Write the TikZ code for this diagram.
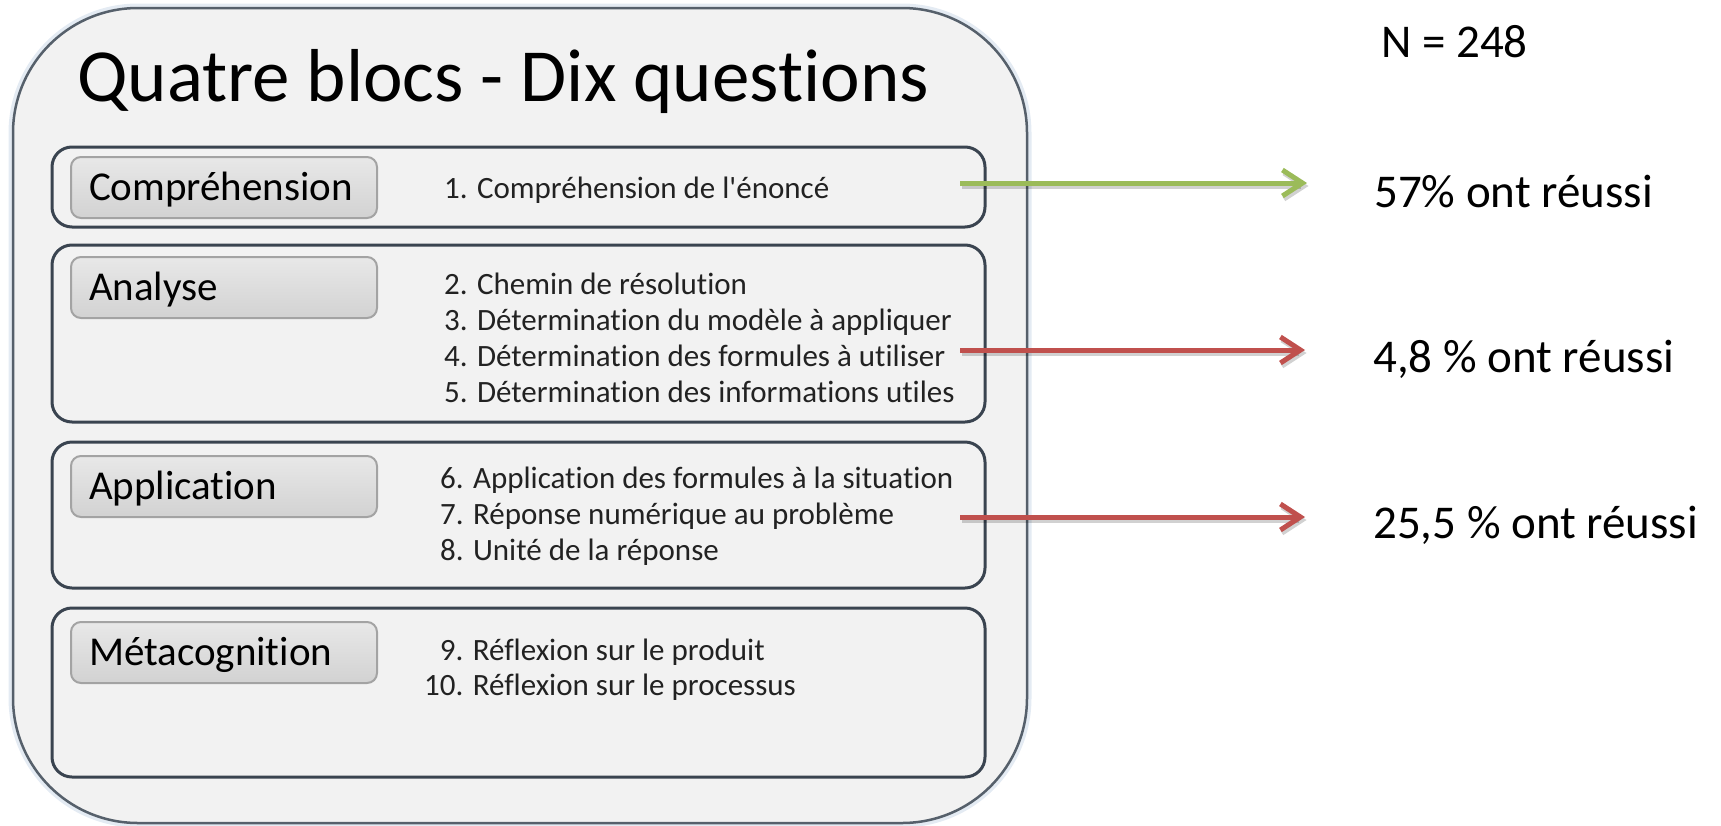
\documentclass[tikz,border=0pt]{standalone}
\usepackage{fontspec}
\setmainfont{Carlito}[Ligatures={TeX,NoCommon}]
\usetikzlibrary{arrows.meta}
\definecolor{outerfill}{HTML}{F2F2F2}
\definecolor{outerline}{HTML}{56606B}
\definecolor{glowblue}{HTML}{E4EBF3}
\definecolor{blockline}{HTML}{3A4450}
\definecolor{blockfill}{HTML}{F2F2F2}
\definecolor{labeltop}{HTML}{E8E8E8}
\definecolor{labelbot}{HTML}{D2D2D2}
\definecolor{labelborder}{HTML}{A3A3A3}
\definecolor{arrowgreen}{HTML}{9BBB59}
\definecolor{arrowred}{HTML}{C0504D}
\definecolor{itemtext}{HTML}{222222}
\begin{document}
\begin{tikzpicture}[x=1pt,y=-1pt,
  outerbox/.style={draw=outerline, line width=2.5pt, fill=outerfill, rounded corners=125pt,
    preaction={draw=glowblue, line width=9pt}, inner sep=0pt},
  blockbox/.style={draw=blockline, line width=3pt, fill=blockfill, rounded corners=20pt, minimum width=933pt, inner sep=0pt},
  labelbox/.style={draw=labelborder, line width=2pt, rounded corners=10pt, top color=labeltop, bottom color=labelbot,
    minimum width=306pt, minimum height=61pt, text width=270pt, inner xsep=18pt, inner ysep=0pt, align=left,
    text height=26pt, text depth=0pt, font=\fontsize{41}{49}\selectfont},
  itemtxt/.style={anchor=base west, inner sep=0pt, text=itemtext, font=\fontsize{31}{37}\selectfont},
  resulttxt/.style={anchor=base west, inner sep=0pt, font=\fontsize{47}{56}\selectfont},
  arrowshadow/.style={draw=black, opacity=0.18, line width=5pt, -{Straight Barb[length=20pt,width=26pt]}},
  greenarrow/.style={draw=arrowgreen, line width=5pt, -{Straight Barb[length=20pt,width=26pt]}},
  redarrow/.style={draw=arrowred, line width=5pt, -{Straight Barb[length=20pt,width=26pt]}}
]
\useasboundingbox (0,0) rectangle (1721,825);

% outer frame
\node[outerbox, minimum width=1014pt, minimum height=815pt] (outer) at (520,415.5) {};

% title
\node[anchor=base west, inner sep=0pt, font=\fontsize{75}{90}\selectfont] (title) at (77,101) {Quatre blocs - Dix questions};

% blocks
\node[blockbox, minimum height=80pt]  (b1) at (518.5,187) {};
\node[blockbox, minimum height=177pt] (b2) at (518.5,333.5) {};
\node[blockbox, minimum height=146pt] (b3) at (518.5,515) {};
\node[blockbox, minimum height=169pt] (b4) at (518.5,692.5) {};

% labels
\node[labelbox] (l1) at (224,187.5) {Compréhension};
\node[labelbox] (l2) at (224,287.5) {Analyse};
\node[labelbox] (l3) at (224,486.5) {Application};
\node[labelbox] (l4) at (224,652.5) {Métacognition};

% items
\node[itemtxt] (q1) at (444,198) {1. Compréhension de l\textquotesingle énoncé};
\node[itemtxt] (q2) at (444,294) {2. Chemin de résolution};
\node[itemtxt] (q3) at (444,330) {3. Détermination du modèle à appliquer};
\node[itemtxt] (q4) at (444,366) {4. Détermination des formules à utiliser};
\node[itemtxt] (q5) at (444,402) {5. Détermination des informations utiles};
\node[itemtxt] (q6) at (440,488) {6. Application des formules à la situation};
\node[itemtxt] (q7) at (440,524) {7. Réponse numérique au problème};
\node[itemtxt] (q8) at (440,560) {8. Unité de la réponse};
\node[itemtxt] (q9) at (424,660) {\hphantom{1}9. Réflexion sur le produit};
\node[itemtxt] (q10) at (424,695) {10. Réflexion sur le processus};

% results
\node[resulttxt] (n) at (1381,57) {N = 248};
\node[resulttxt] (r1) at (1374,207) {57\% ont réussi};
\node[resulttxt] (r2) at (1373,372) {4,8 \% ont réussi};
\node[resulttxt] (r3) at (1373,538) {25,5 \% ont réussi};

% arrow endpoints
\coordinate (a1s) at (960,183);
\coordinate (a1e) at (1307,183);
\coordinate (a2s) at (960,350);
\coordinate (a2e) at (1305,350);
\coordinate (a3s) at (960,517);
\coordinate (a3e) at (1305,517);

\begin{scope}[transform canvas={xshift=1.5pt,yshift=-3pt}]
\draw[arrowshadow] (a1s) -- (a1e);
\draw[arrowshadow] (a2s) -- (a2e);
\draw[arrowshadow] (a3s) -- (a3e);
\end{scope}
\draw[greenarrow] (a1s) -- (a1e);
\draw[redarrow] (a2s) -- (a2e);
\draw[redarrow] (a3s) -- (a3e);
\end{tikzpicture}
\end{document}
